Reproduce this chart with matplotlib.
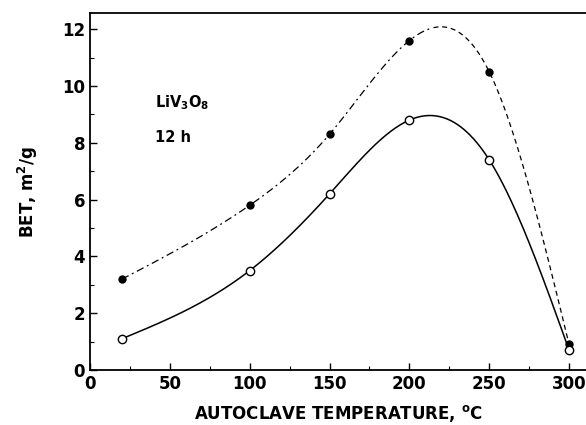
import numpy as np
import matplotlib
matplotlib.use("Agg")
import matplotlib.pyplot as plt
from matplotlib.ticker import MultipleLocator

temps = [20, 100, 150, 200, 250, 300]
bet_filled = [3.2, 5.8, 8.3, 11.6, 10.5, 0.9]
bet_open = [1.1, 3.5, 6.2, 8.8, 7.4, 0.7]
x_ticks = [0, 50, 100, 150, 200, 250, 300]
y_ticks = [0, 2, 4, 6, 8, 10, 12]


def natural_spline(x, y, xs):
    x = np.asarray(x, float); y = np.asarray(y, float)
    n = len(x)
    h = np.diff(x)
    A = np.zeros((n, n)); b = np.zeros(n)
    A[0, 0] = 1; A[-1, -1] = 1
    for i in range(1, n - 1):
        A[i, i - 1] = h[i - 1]
        A[i, i] = 2 * (h[i - 1] + h[i])
        A[i, i + 1] = h[i]
        b[i] = 3 * ((y[i + 1] - y[i]) / h[i] - (y[i] - y[i - 1]) / h[i - 1])
    c = np.linalg.solve(A, b)
    out = np.empty_like(xs)
    for k, xv in enumerate(xs):
        i = min(max(np.searchsorted(x, xv) - 1, 0), n - 2)
        bi = (y[i + 1] - y[i]) / h[i] - h[i] * (2 * c[i] + c[i + 1]) / 3
        di = (c[i + 1] - c[i]) / (3 * h[i])
        dx = xv - x[i]
        out[k] = y[i] + bi * dx + c[i] * dx ** 2 + di * dx ** 3
    return out

plt.rcParams['font.family'] = ['DejaVu Sans']
plt.rcParams['font.weight'] = 'bold'
plt.rcParams['mathtext.default'] = 'bf'

fig = plt.figure(figsize=(5.86, 4.25), dpi=100)
ax = fig.add_axes([0.1536, 0.1294, 0.8464, 0.84])

xs = np.linspace(temps[0], temps[-1], 400)
yf = natural_spline(temps, bet_filled, xs)
yo = natural_spline(temps, bet_open, xs)

m = xs <= 215
ax.plot(xs[m], yf[m], color='black', lw=0.9, linestyle=(0, (6, 3, 1.5, 3)))
ax.plot(xs[~m], yf[~m], color='black', lw=0.9, linestyle=(0, (4, 3)))
ax.plot(xs, yo, color='black', lw=1.1, linestyle='-')

ax.plot(temps, bet_filled, 'o', color='black', markersize=5, linestyle='none')
ax.plot(temps, bet_open, 'o', markerfacecolor='white', markeredgecolor='black',
        markersize=6, markeredgewidth=1.0, linestyle='none')

ax.set_xlim(0, 310.6)
ax.set_ylim(0, 12.57)
ax.set_xticks(x_ticks)
ax.set_yticks(y_ticks)
ax.xaxis.set_minor_locator(MultipleLocator(25))
ax.yaxis.set_minor_locator(MultipleLocator(1))
ax.tick_params(which='both', direction='in', labelsize=12)
ax.tick_params(which='major', length=5, width=1)
ax.tick_params(which='minor', length=3, width=0.8)
for s in ax.spines.values():
    s.set_linewidth(1.3)
ax.spines['right'].set_visible(False)

ax.text(40.5, 9.4, 'LiV$_3$O$_8$', fontsize=10.5, fontweight='bold', va='center')
ax.text(40.5, 8.2, '12 h', fontsize=10.5, fontweight='bold', va='center')

ax.set_xlabel('AUTOCLAVE TEMPERATURE, $^{o}$C', fontsize=12, fontweight='bold', labelpad=7)
ax.set_ylabel('BET, m$^2$/g', fontsize=12, fontweight='bold', labelpad=16)

fig.savefig('out.png', dpi=100)
